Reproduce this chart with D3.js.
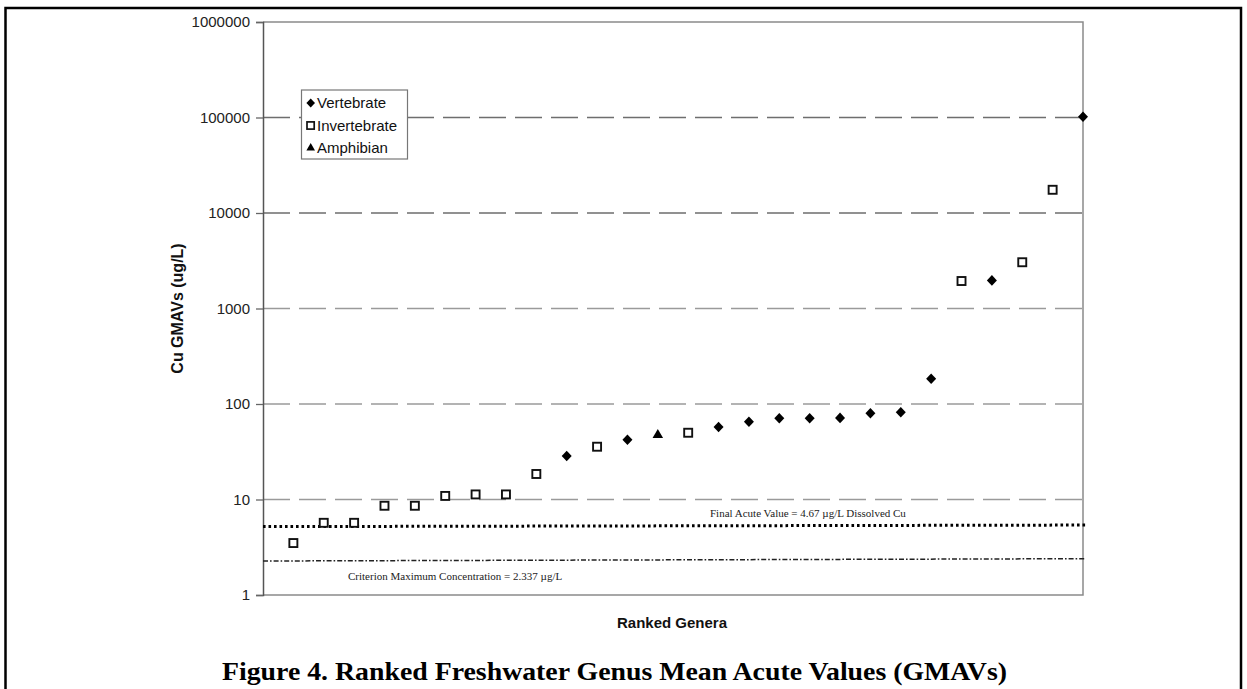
<!DOCTYPE html>
<html>
<head>
<meta charset="utf-8">
<script src="https://cdn.jsdelivr.net/npm/d3@7"></script>
<style>
  html, body { margin: 0; padding: 0; background: #fff; }
  svg { display: block; }
</style>
</head>
<body>
<svg id="chart" width="1247" height="689"></svg>
<script>
// ---- data ----
const ranks = d3.range(1, 28);
const gmavs = [3.5, 5.7, 5.7, 8.6, 8.6, 10.9, 11.3, 11.3, 18.5, 28.5, 35.7, 42.3, 47.3, 50, 57.4, 65.3, 70.8, 70.8, 71.5, 80, 82, 184, 1940, 1970, 3050, 17500, 102000];
const groups = ["I","I","I","I","I","I","I","I","I","V","I","V","A","I","V","V","V","V","V","V","V","V","I","V","I","I","V"];
const legendLabels = ["Vertebrate", "Invertebrate", "Amphibian"];
const legendKeys = ["V", "I", "A"];
const yTicks = [1, 10, 100, 1000, 10000, 100000, 1000000];
const gridValues = [10, 100, 1000, 10000, 100000];
const faveLine = [[0, 5.2], [27.13, 5.4]];
const cmcLine = [[0, 2.27], [27.1, 2.4]];
const faveLabel = "Final Acute Value = 4.67 \u00B5g/L Dissolved Cu";
const cmcLabel = "Criterion Maximum Concentration = 2.337 \u00B5g/L";
const yTitle = "Cu GMAVs (ug/L)";
const xTitle = "Ranked Genera";
const figTitle = "Figure 4. Ranked Freshwater Genus Mean Acute Values (GMAVs)";

// ---- layout ----
const svg = d3.select("#chart");
const M = {left: 263, top: 22, right: 1083, bottom: 595};
const x = d3.scaleLinear().domain([0, 27]).range([M.left, M.right]);
const y = d3.scaleLog().domain([1, 1000000]).range([M.bottom, M.top]);

const diamond = (w, h) => `M0,${-h}L${w},0L0,${h}L${-w},0Z`;

// outer border
svg.append("rect").attr("x", 5.5).attr("y", 8).attr("width", 1235.5).attr("height", 700)
  .attr("fill", "none").attr("stroke", "#000").attr("stroke-width", 2.5);

// gridlines
svg.append("g").selectAll("line").data(gridValues).join("line")
  .attr("x1", M.left).attr("x2", M.right)
  .attr("y1", d => y(d)).attr("y2", d => y(d))
  .attr("stroke", d => d >= 10000 ? "#6e6e6e" : "#9a9a9a")
  .attr("stroke-width", 1.4)
  .attr("stroke-dasharray", "27,9");

// frame (top, right, bottom)
svg.append("path")
  .attr("d", `M${M.left},${M.top}H${M.right}V${M.bottom}H${M.left}`)
  .attr("fill", "none").attr("stroke", "#8a8a8a").attr("stroke-width", 1.5);

// y axis
const yAxis = d3.axisLeft(y).tickValues(yTicks).tickFormat(d3.format("d")).tickSize(7).tickPadding(6);
const ga = svg.append("g").attr("transform", `translate(${M.left},0)`).call(yAxis);
ga.select(".domain").attr("stroke", "#555").attr("stroke-width", 1.5);
ga.selectAll(".tick line").attr("stroke", "#666").attr("stroke-width", 1.3);
ga.selectAll(".tick text").attr("font-family", "Liberation Sans, Arial, sans-serif")
  .attr("font-size", 15).attr("fill", "#222");

// reference lines
const line = d3.line().x(d => x(d[0])).y(d => y(d[1]));
svg.append("path").attr("d", line(faveLine)).attr("fill", "none")
  .attr("stroke", "#000").attr("stroke-width", 3).attr("stroke-dasharray", "2.6,2.9");
svg.append("path").attr("d", line(cmcLine)).attr("fill", "none")
  .attr("stroke", "#222").attr("stroke-width", 1.5).attr("stroke-dasharray", "5,2,1.6,2");

svg.append("text").attr("x", 710).attr("y", 516.5)
  .attr("font-family", "Liberation Serif, Times New Roman, serif").attr("font-size", 11)
  .attr("fill", "#222").text(faveLabel);
svg.append("text").attr("x", 348).attr("y", 580)
  .attr("font-family", "Liberation Serif, Times New Roman, serif").attr("font-size", 11)
  .attr("fill", "#222").text(cmcLabel);

// markers
const pts = ranks.map((r, i) => ({r, v: gmavs[i], g: groups[i]}));
const gp = svg.append("g");
gp.selectAll("path.pt").data(pts.filter(d => d.g !== "I")).join("path")
  .attr("class", "pt")
  .attr("transform", d => `translate(${x(d.r)},${y(d.v)})`)
  .attr("d", d => d.g === "V" ? diamond(5, 5.3) : d3.symbol().type(d3.symbolTriangle).size(48)())
  .attr("fill", "#000");
gp.selectAll("rect.pt").data(pts.filter(d => d.g === "I")).join("rect")
  .attr("class", "pt")
  .attr("x", d => x(d.r) - 4).attr("y", d => y(d.v) - 4)
  .attr("width", 8).attr("height", 8)
  .attr("fill", "#fff").attr("stroke", "#111").attr("stroke-width", 1.9);

// legend
const lg = svg.append("g");
lg.append("rect").attr("x", 301.5).attr("y", 90).attr("width", 106).attr("height", 69)
  .attr("fill", "#fff").attr("stroke", "#777").attr("stroke-width", 1.2);
const ly = d3.scalePoint().domain(legendKeys).range([103, 148]);
legendKeys.forEach((k, i) => {
  const cy = ly(k);
  if (k === "I") {
    lg.append("rect").attr("x", 307).attr("y", cy - 3.6).attr("width", 7.2).attr("height", 7.2)
      .attr("fill", "#fff").attr("stroke", "#111").attr("stroke-width", 1.7);
  } else {
    lg.append("path").attr("transform", `translate(310.7,${cy})`)
      .attr("d", k === "V" ? diamond(4.3, 4.5) : d3.symbol().type(d3.symbolTriangle).size(32)())
      .attr("fill", "#000");
  }
  lg.append("text").attr("x", 317).attr("y", cy + 5.3)
    .attr("font-family", "Liberation Sans, Arial, sans-serif").attr("font-size", 15)
    .attr("fill", "#111").text(legendLabels[i]);
});

// axis titles
svg.append("text").attr("transform", `translate(183,${(M.top + M.bottom) / 2}) rotate(-90)`)
  .attr("text-anchor", "middle").attr("font-family", "Liberation Sans, Arial, sans-serif")
  .attr("font-weight", "bold").attr("font-size", 16).attr("fill", "#111").text(yTitle);
svg.append("text").attr("x", 672).attr("y", 628)
  .attr("text-anchor", "middle").attr("font-family", "Liberation Sans, Arial, sans-serif")
  .attr("font-weight", "bold").attr("font-size", 15).attr("fill", "#111").text(xTitle);

// figure title
svg.append("text").attr("x", 222).attr("y", 680)
  .attr("font-family", "Liberation Serif, Times New Roman, serif")
  .attr("font-weight", "bold").attr("font-size", 25).attr("fill", "#000")
  .attr("textLength", 785).attr("lengthAdjust", "spacingAndGlyphs")
  .text(figTitle);
</script>
</body>
</html>
